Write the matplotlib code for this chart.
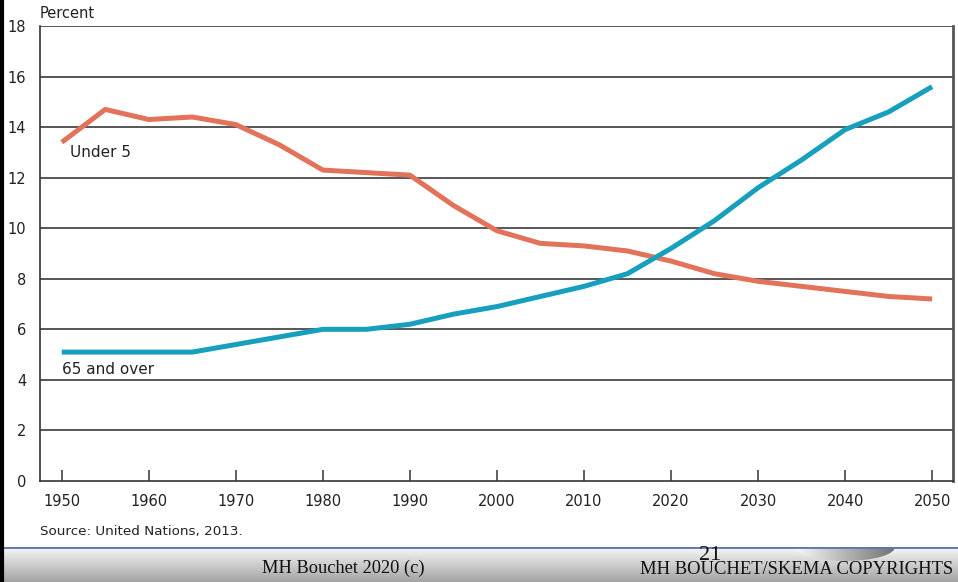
import numpy as np
import matplotlib.pyplot as plt
from matplotlib.patches import Ellipse

# Share of world population by age group, 1950-2050 (UN, 2013)
years = [1950, 1955, 1960, 1965, 1970, 1975, 1980, 1985, 1990, 1995, 2000,
         2005, 2010, 2015, 2020, 2025, 2030, 2035, 2040, 2045, 2050]
under_5 = [13.4, 14.7, 14.3, 14.4, 14.1, 13.3, 12.3, 12.2, 12.1, 10.9, 9.9,
           9.4, 9.3, 9.1, 8.7, 8.2, 7.9, 7.7, 7.5, 7.3, 7.2]
over_65 = [5.1, 5.1, 5.1, 5.1, 5.4, 5.7, 6.0, 6.0, 6.2, 6.6, 6.9,
           7.3, 7.7, 8.2, 9.2, 10.3, 11.6, 12.7, 13.9, 14.6, 15.6]
x_ticks = list(range(1950, 2051, 10))
y_ticks = list(range(0, 19, 2))

W, H = 958, 582
fig = plt.figure(figsize=(W / 100, H / 100), dpi=100)
fig.patch.set_facecolor('white')

def fx(px):
    return px / W

def fy(py):
    return 1 - py / H

ax = fig.add_axes([fx(40), fy(481), fx(953) - fx(40), fy(26) - fy(481)])
ax.plot(years, under_5, color='#E2725A', lw=3.6, solid_capstyle='butt', zorder=3)
ax.plot(years, over_65, color='#17A0BD', lw=3.6, solid_capstyle='butt', zorder=3)

ax.set_xlim(1947.5, 2052.4)
ax.set_ylim(0, 18)
ax.set_xticks(x_ticks)
ax.set_yticks(y_ticks)
for y in y_ticks[1:]:
    ax.axhline(y, color='#3a3a3a', lw=1.2, zorder=1)

ax.tick_params(axis='x', direction='in', length=8, width=1.1, color='#333333',
               pad=9, labelsize=10.5, labelcolor='#222222')
ax.tick_params(axis='y', length=0, pad=10, labelsize=10.5, labelcolor='#222222')
for side in ['left', 'bottom']:
    ax.spines[side].set_color('#333333')
    ax.spines[side].set_linewidth(1.2)
ax.spines['top'].set_visible(False)
ax.spines['right'].set_color('#555555')
ax.spines['right'].set_linewidth(2)

ax.text(1950.9, 13.3, 'Under 5', fontsize=11, color='#222222', va='top')
ax.text(1950.0, 4.7, '65 and over', fontsize=11, color='#222222', va='top')

fig.text(fx(40), fy(14), 'Percent', fontsize=10.5, color='#222222', va='center')
fig.text(fx(40), fy(532), 'Source: United Nations, 2013.', fontsize=9.7,
         color='#222222', va='center')

# footer band with vertical grey gradient
foot = fig.add_axes([0, 0, 1, fy(547)])
grad = np.linspace(0.98, 0.64, 64).reshape(-1, 1)
foot.imshow(np.dstack([grad, grad, grad]), aspect='auto', extent=[0, W, 0, 1],
            interpolation='bilinear', zorder=0)

# small shaded lens under the page number, light on the left, dark on the right
lens = Ellipse((845, 1.0), 100, 0.8, facecolor='none', edgecolor='none')
foot.add_patch(lens)
hgrad = np.linspace(0.97, 0.45, 64).reshape(1, -1)
img = foot.imshow(np.dstack([hgrad, hgrad, hgrad]), aspect='auto',
                  extent=[795, 895, 0.6, 1.0], interpolation='bilinear', zorder=1)
img.set_clip_path(lens)
foot.axhline(1, color='#5A78A8', lw=2, zorder=2)
foot.set_xlim(0, W)
foot.set_ylim(0, 1)
foot.axis('off')

fig.text(fx(262), fy(568), 'MH Bouchet 2020 (c)', family='Liberation Serif',
         fontsize=13.2, color='#111111', va='center')
fig.text(fx(699), fy(555), '21', family='Liberation Serif',
         fontsize=16, color='#111111', va='center')
fig.text(fx(640), fy(570), 'MH BOUCHET/SKEMA COPYRIGHTS', family='Liberation Serif',
         fontsize=13.4, color='#111111', va='center')

# dark strip down the left edge
fig.add_artist(plt.Line2D([fx(1.5), fx(1.5)], [0, 1], color='black', lw=3))

fig.savefig('out.png', dpi=100)
